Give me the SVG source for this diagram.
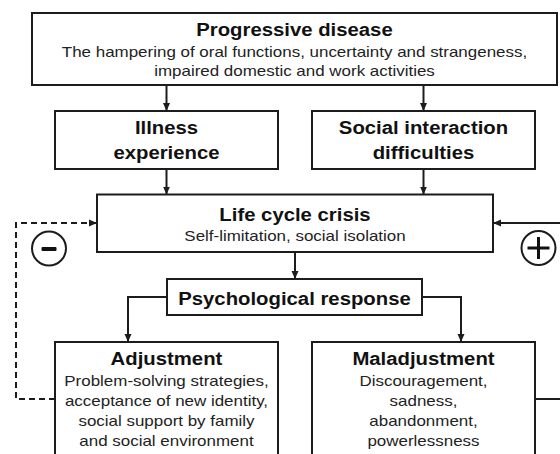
<svg xmlns="http://www.w3.org/2000/svg" width="560" height="454" viewBox="0 0 560 454">
<style>
.box{fill:#fff;stroke:#1c1c1c;stroke-width:2}
.ln{fill:none;stroke:#1c1c1c;stroke-width:2}
.dash{stroke-dasharray:6 4}
text{font-family:"Liberation Sans",Arial,sans-serif;text-anchor:middle;fill:#111;transform-box:fill-box;transform-origin:center}
.b{font-weight:bold;font-size:19px;transform:scaleX(1.07)}
.r{font-size:15px;fill:#222;transform:scaleX(1.13)}
.sym{fill:#fff;stroke:#1c1c1c;stroke-width:2}
.bar{fill:#111}
</style>
<defs>
<marker id="ah" markerUnits="userSpaceOnUse" markerWidth="8" markerHeight="8" refX="8" refY="4" orient="auto">
<path d="M0,0.5 L8,4 L0,7.5 z" fill="#1c1c1c"/>
</marker>
</defs>
<g id="connectors">
<path class="ln" d="M166.5,85 V111" marker-end="url(#ah)"/>
<path class="ln" d="M423.5,85 V111" marker-end="url(#ah)"/>
<path class="ln" d="M166.5,169 V194.5" marker-end="url(#ah)"/>
<path class="ln" d="M423.5,169 V194.5" marker-end="url(#ah)"/>
<path class="ln" d="M295,252 V279" marker-end="url(#ah)"/>
<path class="ln" d="M167,297 H128 V342" marker-end="url(#ah)"/>
<path class="ln" d="M422,297 H461 V342" marker-end="url(#ah)"/>
<path class="ln dash" d="M55,399 H16 V223 H97" marker-end="url(#ah)"/>
<path class="ln" d="M535,399 H562"/>
<path class="ln" d="M562,223 H493" marker-end="url(#ah)"/>
</g>
<g id="progressive-disease">
<rect class="box" x="32" y="13" width="525" height="72"/>
<text class="b" x="294.5" y="36">Progressive disease</text>
<text class="r" x="294.5" y="57">The hampering of oral functions, uncertainty and strangeness,</text>
<text class="r" x="294.5" y="76">impaired domestic and work activities</text>
</g>
<g id="illness-experience">
<rect class="box" x="55" y="111" width="223" height="58"/>
<text class="b" x="166.5" y="134">Illness</text>
<text class="b" x="166.5" y="159">experience</text>
</g>
<g id="social-interaction">
<rect class="box" x="312" y="111" width="223" height="58"/>
<text class="b" x="423.5" y="134">Social interaction</text>
<text class="b" x="423.5" y="159">difficulties</text>
</g>
<g id="life-cycle-crisis">
<rect class="box" x="97" y="194.5" width="396" height="57.5"/>
<text class="b" x="295" y="221">Life cycle crisis</text>
<text class="r" x="295" y="241">Self-limitation, social isolation</text>
</g>
<g id="psychological-response">
<rect class="box" x="167" y="279" width="255" height="36"/>
<text class="b" x="294.5" y="305">Psychological response</text>
</g>
<g id="adjustment">
<rect class="box" x="55" y="342" width="223" height="130"/>
<text class="b" x="166.5" y="365">Adjustment</text>
<text class="r" x="166.5" y="386">Problem-solving strategies,</text>
<text class="r" x="166.5" y="406">acceptance of new identity,</text>
<text class="r" x="166.5" y="426">social support by family</text>
<text class="r" x="166.5" y="446">and social environment</text>
</g>
<g id="maladjustment">
<rect class="box" x="312" y="342" width="223" height="130"/>
<text class="b" x="423.5" y="365">Maladjustment</text>
<text class="r" x="423.5" y="386">Discouragement,</text>
<text class="r" x="423.5" y="406">sadness,</text>
<text class="r" x="423.5" y="426">abandonment,</text>
<text class="r" x="423.5" y="446">powerlessness</text>
</g>
<g id="minus-sign">
<circle class="sym" cx="49" cy="248.5" r="17"/>
<rect class="bar" x="41.5" y="247" width="15" height="4" rx="1"/>
</g>
<g id="plus-sign">
<circle class="sym" cx="538.5" cy="248" r="17"/>
<rect class="bar" x="527.5" y="246.5" width="22" height="3"/>
<rect class="bar" x="537" y="237" width="3" height="22"/>
</g>
</svg>
